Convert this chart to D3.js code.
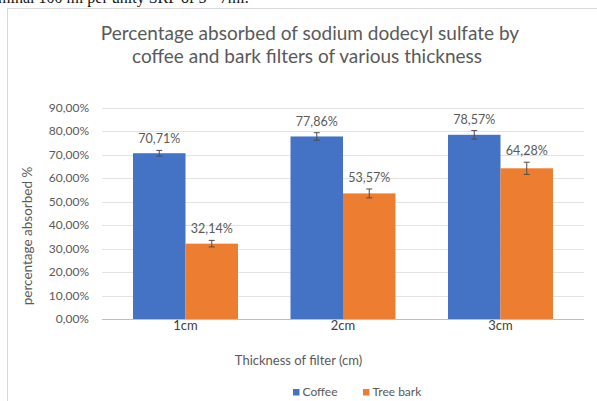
<!DOCTYPE html>
<html><head><meta charset="utf-8">
<script src="https://cdn.jsdelivr.net/npm/d3@7"></script>
<style>html,body{margin:0;padding:0;background:#fff;}svg{display:block;}</style>
</head><body>
<svg id="c" width="597" height="401"></svg>
<script>
const categories = ["1cm", "2cm", "3cm"];
const seriesNames = ["Coffee", "Tree bark"];
const coffee = [0.7071, 0.7786, 0.7857];
const treeBark = [0.3214, 0.5357, 0.6428];
const coffeeErr = [0.012, 0.016, 0.018];
const treeBarkErr = [0.014, 0.019, 0.026];
const yTicks = [0, 0.1, 0.2, 0.3, 0.4, 0.5, 0.6, 0.7, 0.8, 0.9];
const colors = ["#4472C4", "#ED7D31"];

const values = [coffee, treeBark];
const errs = [coffeeErr, treeBarkErr];
const rows = [];
categories.forEach((c, i) => seriesNames.forEach((s, j) => rows.push({cat: c, ser: s, v: values[j][i], e: errs[j][i], j})));

const loc = d3.formatLocale({decimal: ",", thousands: ".", grouping: [3], currency: ["", "€"], percent: "%"});
const fmt = loc.format(".2%");

const svg = d3.select("#c");
svg.append("rect").attr("width", 597).attr("height", 401).attr("fill", "#fff");

// clipped document text above the chart (cut off in the reference too)
svg.append("text").attr("x", -2).attr("y", 3)
  .attr("font-family", "Liberation Serif").attr("font-size", 16).attr("fill", "#111")
  .text("minal 100 ml per unity SRF of 5 - 7ml.");

svg.append("rect").attr("x", 7.5).attr("y", 8.5).attr("width", 620).attr("height", 420)
  .attr("fill", "#fff").attr("stroke", "#d9d9d9");

const font = "Lato, 'Open Sans', sans-serif";
const title = svg.append("text").attr("text-anchor", "middle").attr("font-family", font)
  .attr("font-size", 19).attr("fill", "#595959");
title.append("tspan").attr("x", 310).attr("y", 40).text("Percentage absorbed of sodium dodecyl sulfate by");
title.append("tspan").attr("x", 307).attr("y", 63).text("coffee and bark filters of various thickness");

const y = d3.scaleLinear().domain([0, 0.9]).range([319, 108]);
const x0 = d3.scaleBand().domain(categories).range([106.75, 579.25]).paddingInner(1/3).paddingOuter(1/6);
const x1 = d3.scaleBand().domain(seriesNames).range([0, x0.bandwidth()]);

// gridlines
svg.append("g").selectAll("line").data(yTicks).join("line")
  .attr("x1", 102).attr("x2", 584)
  .attr("y1", d => Math.round(y(d)) + 0.5).attr("y2", d => Math.round(y(d)) + 0.5)
  .attr("stroke", d => d === 0 ? "#bfbfbf" : "#e3e3e3").attr("stroke-width", 1);

// y tick labels
svg.append("g").selectAll("text").data(yTicks).join("text")
  .attr("x", 89).attr("y", d => y(d) + 4).attr("text-anchor", "end")
  .attr("font-family", font).attr("font-size", 12).attr("fill", "#595959")
  .text(d => fmt(d));

// bars
svg.append("g").selectAll("rect").data(rows).join("rect")
  .attr("x", d => x0(d.cat) + x1(d.ser)).attr("width", x1.bandwidth())
  .attr("y", d => y(d.v)).attr("height", d => y(0) - y(d.v))
  .attr("fill", d => colors[d.j]);

// error bars
const eg = svg.append("g").attr("stroke", "#4d4d4d").attr("stroke-width", 1);
rows.forEach(d => {
  const cx = x0(d.cat) + x1(d.ser) + x1.bandwidth() / 2;
  const t = y(d.v + d.e), b = y(d.v - d.e);
  eg.append("line").attr("x1", cx).attr("x2", cx).attr("y1", t).attr("y2", b);
  eg.append("line").attr("x1", cx - 3).attr("x2", cx + 3).attr("y1", t).attr("y2", t);
  eg.append("line").attr("x1", cx - 3).attr("x2", cx + 3).attr("y1", b).attr("y2", b);
});

// value labels
svg.append("g").selectAll("text").data(rows).join("text")
  .attr("x", d => x0(d.cat) + x1(d.ser) + x1.bandwidth() / 2)
  .attr("y", d => y(d.v + d.e) - 7).attr("text-anchor", "middle")
  .attr("font-family", font).attr("font-size", 12.5).attr("fill", "#595959")
  .text(d => fmt(d.v));

// x tick labels
svg.append("g").selectAll("text").data(categories).join("text")
  .attr("x", d => x0(d) + x0.bandwidth() / 2).attr("y", 330).attr("text-anchor", "middle")
  .attr("font-family", font).attr("font-size", 13).attr("fill", "#404040")
  .text(d => d);

// axis titles
svg.append("text").attr("x", 298.5).attr("y", 365).attr("text-anchor", "middle")
  .attr("font-family", font).attr("font-size", 13).attr("fill", "#595959")
  .text("Thickness of filter (cm)");
svg.append("text").attr("transform", "translate(32,236) rotate(-90)").attr("text-anchor", "middle")
  .attr("font-family", font).attr("font-size", 13.5).attr("fill", "#595959")
  .text("percentage absorbed %");

// legend
const legX = [293, 363];
const lg = svg.append("g").selectAll("g").data(seriesNames).join("g")
  .attr("transform", (d, i) => `translate(${legX[i]},389)`);
lg.append("rect").attr("width", 6.5).attr("height", 6.5).attr("fill", (d, i) => colors[i]);
lg.append("text").attr("x", 9.5).attr("y", 7).attr("font-family", font).attr("font-size", 12)
  .attr("fill", "#595959").text(d => d);
</script>
</body></html>
